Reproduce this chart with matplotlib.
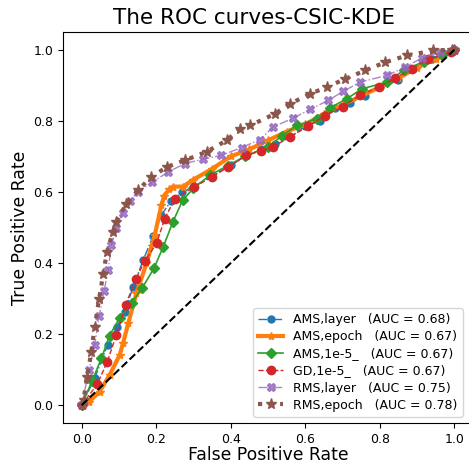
import matplotlib
matplotlib.use('Agg')
import matplotlib.pyplot as plt

# ROC points
ams_layer_x = [0, 0.035, 0.07, 0.095, 0.116, 0.138, 0.165, 0.192, 0.214, 0.24, 0.27, 0.30, 0.35, 0.40, 0.44, 0.48,
               0.52, 0.56, 0.60, 0.64, 0.68, 0.72, 0.76, 0.80, 0.85, 0.89, 0.94, 0.97, 1.0]
ams_layer_y = [0, 0.076, 0.17, 0.22, 0.263, 0.333, 0.408, 0.477, 0.535, 0.575, 0.60, 0.615, 0.645, 0.675, 0.70, 0.72,
               0.735, 0.755, 0.785, 0.80, 0.835, 0.85, 0.87, 0.895, 0.915, 0.945, 0.975, 0.99, 1.0]

ams_epoch_x = [0, 0.02, 0.048, 0.075, 0.102, 0.111, 0.125, 0.147, 0.174, 0.196, 0.214, 0.222, 0.235, 0.245, 0.272,
               0.30, 0.35, 0.40, 0.45, 0.50, 0.55, 0.60, 0.65, 0.70, 0.75, 0.80, 0.85, 0.90, 0.95, 1.0]
ams_epoch_y = [0, 0.01, 0.038, 0.085, 0.141, 0.174, 0.23, 0.315, 0.399, 0.478, 0.563, 0.59, 0.608, 0.615, 0.615,
               0.635, 0.665, 0.70, 0.72, 0.745, 0.77, 0.79, 0.82, 0.845, 0.87, 0.895, 0.92, 0.95, 0.975, 1.0]

ams_1e5_x = [0, 0.028, 0.053, 0.075, 0.102, 0.134, 0.163, 0.194, 0.219, 0.245, 0.271, 0.30, 0.344, 0.392, 0.438,
             0.50, 0.537, 0.577, 0.631, 0.667, 0.711, 0.752, 0.819, 0.864, 0.918, 0.967, 1.0]
ams_1e5_y = [0, 0.068, 0.132, 0.196, 0.246, 0.287, 0.331, 0.385, 0.446, 0.516, 0.577, 0.61, 0.647, 0.674, 0.70,
             0.727, 0.757, 0.787, 0.806, 0.837, 0.862, 0.89, 0.909, 0.942, 0.967, 0.984, 1.0]

gd_1e5_x = [0, 0.042, 0.069, 0.093, 0.118, 0.145, 0.169, 0.201, 0.223, 0.25, 0.302, 0.349, 0.393, 0.442, 0.48,
            0.514, 0.559, 0.608, 0.653, 0.70, 0.747, 0.797, 0.841, 0.886, 0.93, 0.99, 1.0]
gd_1e5_y = [0, 0.059, 0.123, 0.197, 0.282, 0.354, 0.405, 0.455, 0.525, 0.581, 0.614, 0.642, 0.67, 0.703, 0.715,
            0.727, 0.755, 0.785, 0.815, 0.84, 0.872, 0.895, 0.92, 0.947, 0.973, 0.994, 1.0]

rms_layer_x = [0, 0.02, 0.035, 0.047, 0.06, 0.071, 0.08, 0.093, 0.11, 0.13, 0.15, 0.19, 0.232, 0.277, 0.325, 0.375,
               0.429, 0.478, 0.514, 0.568, 0.613, 0.662, 0.702, 0.747, 0.819, 0.868, 0.913, 0.962, 1.0]
rms_layer_y = [0, 0.10, 0.17, 0.25, 0.32, 0.38, 0.45, 0.50, 0.54, 0.575, 0.60, 0.628, 0.656, 0.68, 0.692, 0.703,
               0.725, 0.747, 0.783, 0.808, 0.832, 0.858, 0.883, 0.909, 0.928, 0.951, 0.977, 0.993, 1.0]

rms_epoch_x = [0, 0.005, 0.015, 0.026, 0.035, 0.047, 0.058, 0.068, 0.084, 0.093, 0.12, 0.151, 0.187, 0.228, 0.277,
               0.335, 0.389, 0.425, 0.452, 0.519, 0.559, 0.613, 0.658, 0.707, 0.761, 0.815, 0.873, 0.944, 0.994, 1.0]
rms_epoch_y = [0, 0.015, 0.08, 0.151, 0.22, 0.30, 0.37, 0.432, 0.488, 0.516, 0.567, 0.605, 0.642, 0.67, 0.689,
               0.713, 0.745, 0.778, 0.787, 0.82, 0.848, 0.876, 0.895, 0.918, 0.942, 0.965, 0.984, 0.998, 1.0, 1.0]

names = ['AMS,layer', 'AMS,epoch', 'AMS,1e-5_', 'GD,1e-5_', 'RMS,layer', 'RMS,epoch']
aucs = [0.68, 0.67, 0.67, 0.67, 0.75, 0.78]

fig = plt.figure(figsize=(4.69, 4.63), dpi=100)
ax = fig.add_axes([63 / 469, 40 / 463, 410 / 469, 391 / 463])

ax.plot(ams_layer_x, ams_layer_y, color='tab:blue', ls='-.', lw=1, marker='o', ms=5,
        label=names[0] + '   (AUC = %0.2f)' % aucs[0])
ax.plot(ams_epoch_x, ams_epoch_y, color='tab:orange', ls='-', lw=3, marker='*', ms=6,
        label=names[1] + '   (AUC = %0.2f)' % aucs[1])
ax.plot(ams_1e5_x, ams_1e5_y, color='tab:green', ls='-', lw=1.2, marker='D', ms=5,
        label=names[2] + '   (AUC = %0.2f)' % aucs[2])
ax.plot(gd_1e5_x, gd_1e5_y, color='tab:red', ls='--', lw=1, marker='o', ms=6,
        label=names[3] + '   (AUC = %0.2f)' % aucs[3])
ax.plot(rms_layer_x, rms_layer_y, color='tab:purple', ls='-.', lw=1, marker='X', ms=6, alpha=0.8,
        label=names[4] + '   (AUC = %0.2f)' % aucs[4])
ax.plot(rms_epoch_x, rms_epoch_y, color='tab:brown', ls=':', lw=3, marker='*', ms=8,
        label=names[5] + '   (AUC = %0.2f)' % aucs[5])
ax.plot([0, 1], [0, 1], 'k--', lw=1.5)

ax.set_xlim(-0.05, 1.05)
ax.set_ylim(-0.05, 1.05)
ax.set_xticks([0, 0.2, 0.4, 0.6, 0.8, 1.0])
ax.set_yticks([0, 0.2, 0.4, 0.6, 0.8, 1.0])
ax.tick_params(labelsize=9)
ax.set_xlabel('False Positive Rate', fontsize=12.4, labelpad=0)
ax.set_ylabel('True Positive Rate', fontsize=12.4, labelpad=3)
ax.set_title('The ROC curves-CSIC-KDE', fontsize=15.5, x=0.466)
ax.legend(loc='lower right', fontsize=9, labelspacing=0.33, bbox_to_anchor=(0.99, 0.0))

fig.savefig('out.png', dpi=100)
